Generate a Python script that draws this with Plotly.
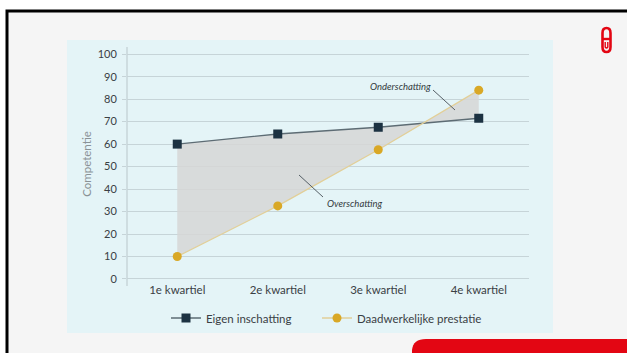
import plotly.graph_objects as go

# Data
kwartielen = ["1e kwartiel", "2e kwartiel", "3e kwartiel", "4e kwartiel"]
eigen_inschatting = [60, 64.5, 67.5, 71.5]
daadwerkelijke_prestatie = [10, 32.5, 57.5, 84]
y_ticks = [0, 10, 20, 30, 40, 50, 60, 70, 80, 90, 100]

W, H = 627, 353
# plot area in pixels
L, R, T, B = 127, 529, 47, 281

FONT = "Lato, 'Open Sans', sans-serif"


def px(x):
    return (x - L) / (R - L)


def py(y):
    return (B - y) / (B - T)


fig = go.Figure()

# shaded gap between self-assessment and actual performance
fig.add_trace(go.Scatter(x=kwartielen, y=daadwerkelijke_prestatie, mode="lines",
                         line=dict(width=0), showlegend=False, hoverinfo="skip"))
fig.add_trace(go.Scatter(x=kwartielen, y=eigen_inschatting, mode="lines",
                         line=dict(width=0), fill="tonexty",
                         fillcolor="rgba(214,214,214,0.85)",
                         showlegend=False, hoverinfo="skip"))

fig.add_trace(go.Scatter(x=kwartielen, y=eigen_inschatting, mode="lines+markers",
                         name="Eigen inschatting", legend="legend",
                         line=dict(color="#5d6c74", width=1.3),
                         marker=dict(symbol="square", size=9, color="#1c3242")))
fig.add_trace(go.Scatter(x=kwartielen, y=daadwerkelijke_prestatie, mode="lines+markers",
                         name="Daadwerkelijke prestatie", legend="legend2",
                         line=dict(color="#e2cf98", width=1.3),
                         marker=dict(symbol="circle", size=9, color="#d9a826")))

RED = "#e30613"
shapes = [
    # slide frame
    dict(type="rect", xref="paper", yref="paper", x0=px(7), x1=px(640), y0=py(11), y1=py(370),
         fillcolor="#f5f5f5", line=dict(color="#000000", width=3), layer="below"),
    # chart panel
    dict(type="rect", xref="paper", yref="paper", x0=px(67), x1=px(553), y0=py(40), y1=py(333),
         fillcolor="#e4f4f7", line=dict(width=0), layer="below"),
    # red band bottom right
    dict(type="path", xref="paper", yref="paper",
         path=f"M {px(412)},{py(360)} L {px(412)},{py(350)} Q {px(413)},{py(339)} {px(426)},{py(339)} "
              f"L {px(640)},{py(339)} L {px(640)},{py(360)} Z",
         fillcolor=RED, line=dict(width=0), layer="above"),
    # logo: pill outline
    dict(type="path", xref="paper", yref="paper",
         path=f"M {px(602.5)},{py(33)} Q {px(602.5)},{py(28)} {px(606.5)},{py(28)} Q {px(610.5)},{py(28)} {px(610.5)},{py(33)} "
              f"L {px(610.5)},{py(47)} Q {px(610.5)},{py(52)} {px(606.5)},{py(52)} Q {px(602.5)},{py(52)} {px(602.5)},{py(47)} Z",
         fillcolor="rgba(0,0,0,0)", line=dict(color=RED, width=2.6), layer="above"),
    dict(type="line", xref="paper", yref="paper", x0=px(602.5), x1=px(610.5), y0=py(39), y1=py(39),
         line=dict(color=RED, width=2.4), layer="above"),
    dict(type="path", xref="paper", yref="paper",
         path=f"M {px(605.2)},{py(42)} L {px(605.2)},{py(47)} Q {px(606.5)},{py(49)} {px(607.8)},{py(47)} L {px(607.8)},{py(42)}",
         fillcolor="rgba(0,0,0,0)", line=dict(color=RED, width=1.4), layer="above"),
    # y axis line
    dict(type="line", xref="paper", yref="paper", x0=0, x1=0, y0=py(286), y1=1,
         line=dict(color="#b9c6ca", width=1), layer="below"),
    # leader lines for labels
    dict(type="line", xref="paper", yref="paper", x0=px(433), y0=py(90), x1=px(455), y1=py(110),
         line=dict(color="#555f66", width=1), layer="above"),
    dict(type="line", xref="paper", yref="paper", x0=px(299), y0=py(175), x1=px(323), y1=py(197),
         line=dict(color="#555f66", width=1), layer="above"),
]

annotations = [
    dict(text="<i>Onderschatting</i>", xref="paper", yref="paper", x=px(400), y=py(87),
         xanchor="center", yanchor="middle",
         showarrow=False, font=dict(family=FONT, size=9.5, color="#333a40")),
    dict(text="<i>Overschatting</i>", xref="paper", yref="paper", x=px(354), y=py(203),
         xanchor="center", yanchor="middle",
         showarrow=False, font=dict(family=FONT, size=9.5, color="#333a40")),
]

legend_style = dict(orientation="h", yanchor="middle", xanchor="left", y=py(318),
                    bgcolor="rgba(0,0,0,0)", itemwidth=30,
                    font=dict(family=FONT, size=11.5, color="#3a4044"))

fig.update_layout(
    width=W, height=H,
    margin=dict(l=L, r=W - R, t=T, b=H - B),
    paper_bgcolor="#ffffff",
    plot_bgcolor="rgba(0,0,0,0)",
    font=dict(family=FONT, size=11, color="#3a4044"),
    shapes=shapes,
    annotations=annotations,
    legend=dict(x=px(166), **legend_style),
    legend2=dict(x=px(317), **legend_style),
    showlegend=True,
)

fig.update_xaxes(showgrid=False, showline=False, zeroline=False, ticks="",
                 range=[-0.5, 3.5], tickfont=dict(family=FONT, size=11.5, color="#3a4044"))
fig.update_yaxes(range=[-0.9, 103.2], tickvals=y_ticks, showgrid=True,
                 gridcolor="#c6d4d8", gridwidth=1, zeroline=False, showline=False,
                 ticks="outside", ticklen=4, tickcolor="#c6d4d8", ticklabelstandoff=3,
                 tickfont=dict(family=FONT, size=11, color="#3a4044"),
                 title=dict(text="Competentie", standoff=3,
                            font=dict(family=FONT, size=11.5, color="#8a9296")))

fig.write_html("out.html")
